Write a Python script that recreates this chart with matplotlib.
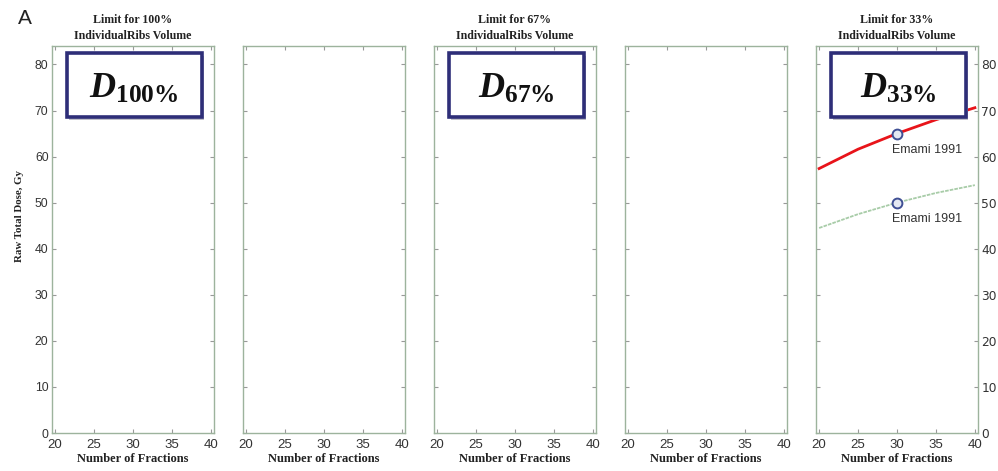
import matplotlib.pyplot as plt
from matplotlib.patches import Rectangle
import numpy as np

plt.rcParams['mathtext.fontset'] = 'custom'
plt.rcParams['mathtext.it'] = 'Liberation Serif:italic:bold'
plt.rcParams['mathtext.bfit'] = 'Liberation Serif:italic:bold'
plt.rcParams['mathtext.bf'] = 'Liberation Serif:bold'
plt.rcParams['mathtext.rm'] = 'Liberation Serif:bold'

# dados
panel_titles = ['Limit for 100%\nIndividualRibs Volume', '', 'Limit for 67%\nIndividualRibs Volume',
                '', 'Limit for 33%\nIndividualRibs Volume']
box_labels = ['100', None, '67', None, '33']
x_ticks = [20, 25, 30, 35, 40]
y_ticks = [0, 10, 20, 30, 40, 50, 60, 70, 80]

# curvas do painel 33%
fractions = [20, 25, 30, 35, 40]
red_dose = [57.4, 61.6, 65.0, 68.0, 70.6]
green_dose = [44.5, 47.5, 50.0, 52.1, 53.8]
emami_x = [30, 30]
emami_y = [65, 50]

frame_col = '#9db39d'
tick_font = 'Liberation Sans'
serif = 'Liberation Serif'

fig = plt.figure(figsize=(9.98, 4.71), dpi=100)
W, H = 998, 471
left0, width, step = 52, 162, 191
top, bottom = 46, 433

axes = []
for i in range(5):
    ax = fig.add_axes([(left0 + i * step) / W, 1 - bottom / H, width / W, (bottom - top) / H])
    ax.set_xlim(19.6, 40.4)
    ax.set_ylim(0, 84)
    ax.set_xticks(x_ticks)
    ax.set_yticks(y_ticks)
    for s in ax.spines.values():
        s.set_color(frame_col)
        s.set_linewidth(1.0)
    ax.tick_params(direction='in', length=3, color='#999999', top=True, right=True,
                   labelsize=9.5, labelcolor='#333333', pad=4)
    ax.tick_params(axis='y', pad=2.5, labelsize=8.8)
    for lab in ax.get_xticklabels() + ax.get_yticklabels():
        lab.set_fontfamily(tick_font)
    if i == 0:
        ax.tick_params(labelleft=True, labelright=False)
        ax.set_ylabel('Raw Total Dose, Gy', fontfamily=serif, fontweight='bold', fontsize=7.8,
                      color='#222222')
        ax.yaxis.set_label_coords(-0.17, 0.56)
    elif i == 4:
        ax.tick_params(labelleft=False, labelright=True)
    else:
        ax.tick_params(labelleft=False, labelright=False)
    ax.set_xlabel('Number of Fractions', fontfamily=serif, fontweight='bold', fontsize=9,
                  color='#222222', labelpad=2)
    if panel_titles[i]:
        ax.set_title(panel_titles[i], fontfamily=serif, fontweight='bold', fontsize=8.6,
                     color='#222222', pad=5, linespacing=1.4)
    if box_labels[i]:
        bx, by, bw, bh = 0.09, 0.817, 0.835, 0.165
        ax.add_patch(Rectangle((bx + 0.014, by - 0.008), bw, bh, transform=ax.transAxes,
                               facecolor='#c0c0c8', edgecolor='none', zorder=4, clip_on=False))
        ax.add_patch(Rectangle((bx, by), bw, bh, transform=ax.transAxes, facecolor='white',
                               edgecolor='#2e2e78', linewidth=2.6, zorder=5, clip_on=False))
        ax.text(bx + bw / 2, by + bh / 2 - 0.008, r'$\mathbfit{D}_{\mathbf{' + box_labels[i] + r'\%}}$',
                transform=ax.transAxes, ha='center', va='center', fontsize=26, color='#111111', zorder=6)
    axes.append(ax)

ax = axes[4]
ax.plot(fractions, red_dose, color='#e8141a', linewidth=2, zorder=3)
ax.plot(fractions, green_dose, color='#a8cca8', linewidth=1.3, linestyle=(0, (2, 0.6)), zorder=3)
ax.scatter(emami_x, emami_y, s=50, facecolor='#e4e8f2', edgecolor='#3f4f94', linewidth=1.4, zorder=4)
for xx, yy in zip(emami_x, emami_y):
    ax.text(xx - 0.6, yy - 2.3, 'Emami 1991', fontfamily=tick_font, fontsize=9, color='#333333',
            ha='left', va='top', zorder=4)

fig.text(18 / W, 1 - 18 / H, 'A', fontfamily=tick_font, fontsize=15, color='#222222',
         ha='left', va='center')

fig.savefig('out.png', dpi=100)
